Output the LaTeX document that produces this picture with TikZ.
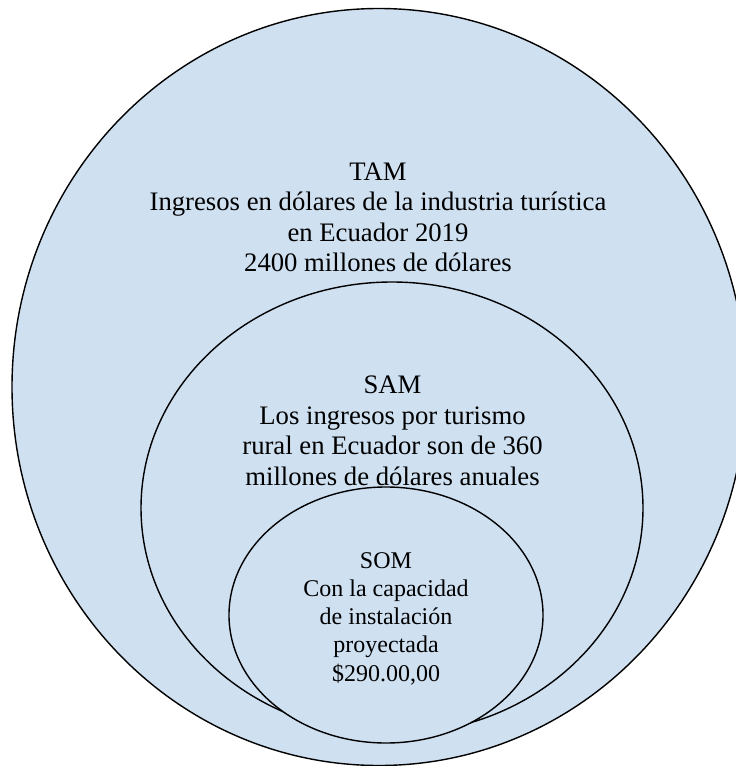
\documentclass[tikz,border=0pt]{standalone}
\usepackage{fontspec}
\setmainfont{Liberation Serif}
\definecolor{marketfill}{RGB}{207,224,241}
\begin{document}
\begin{tikzpicture}[x=1pt,y=-1pt,
  ring/.style={draw=black,line width=1.4pt,fill=marketfill},
  bigtext/.style={align=center,inner sep=0pt,font=\fontsize{26.7}{30.5}\selectfont},
  smalltext/.style={align=center,inner sep=0pt,font=\fontsize{24}{28.3}\selectfont}]
\useasboundingbox (0,0) rectangle (736,766);
\clip (0,0) rectangle (736,766);
% nested market circles
\draw[ring] (379,387) ellipse [x radius=367, y radius=378.5];
\draw[ring] (392,508) ellipse [x radius=251, y radius=226];
\draw[ring] (386,615) ellipse [x radius=157, y radius=128];
% labels
\node[bigtext] (tam) at (378,217.5) {TAM\\Ingresos en dólares de la industria turística\\en Ecuador 2019\\2400 millones de dólares};
\node[bigtext] (sam) at (392.5,431) {SAM\\Los ingresos por turismo\\rural en Ecuador son de 360\\millones de dólares anuales};
\node[smalltext] (som) at (386,618.5) {SOM\\Con la capacidad\\de instalación\\proyectada\\\$290.00,00};
\end{tikzpicture}
\end{document}
